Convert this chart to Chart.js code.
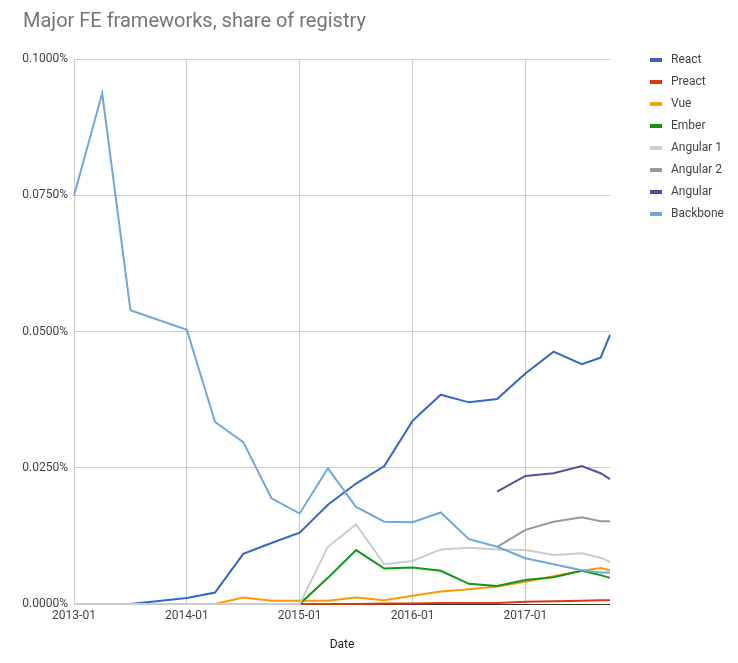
<!DOCTYPE html>
<html>
<head>
<meta charset="utf-8">
<script src="https://cdn.jsdelivr.net/npm/chart.js@4/dist/chart.umd.min.js"></script>
<style>
  html, body { margin: 0; padding: 0; background: #fff; }
</style>
</head>
<body>
<canvas id="fwChart" width="738" height="663"></canvas>
<script>
  // datos (porcentaje del registro)
  const months = ['2013-01','2013-04','2013-07','2014-01','2014-04','2014-07','2014-10','2015-01','2015-04','2015-07',
                  '2015-10','2016-01','2016-04','2016-07','2016-10','2017-01','2017-04','2017-07','2017-09','2017-10'];
  const react    = [0, 0, 0, 0.0011, 0.0021, 0.0092, 0.0112, 0.0131, 0.0182, 0.0221, 0.0253, 0.0336, 0.0384, 0.0370, 0.0376, 0.0423, 0.0463, 0.0440, 0.0452, 0.0494];
  const preact   = [null, null, null, null, null, null, null, 0, 0, 0, 0.0001, 0.0001, 0.0002, 0.0002, 0.0002, 0.0004, 0.0005, 0.0006, 0.0007, 0.0007];
  const vue      = [0, 0, 0, 0, 0, 0.0012, 0.0006, 0.0006, 0.0006, 0.0012, 0.0007, 0.0015, 0.0023, 0.0027, 0.0032, 0.0041, 0.0051, 0.0061, 0.0066, 0.0062];
  const ember    = [0, 0, 0, 0, 0, 0, 0, 0, 0.0048, 0.0099, 0.0065, 0.0067, 0.0061, 0.0037, 0.0033, 0.0044, 0.0049, 0.0061, 0.0053, 0.0048];
  const angular1 = [0, 0, 0, 0, 0, 0, 0, 0, 0.0105, 0.0146, 0.0073, 0.0079, 0.0100, 0.0103, 0.0100, 0.0099, 0.0090, 0.0093, 0.0085, 0.0077];
  const angular2 = [null, null, null, null, null, null, null, null, null, null, null, null, null, null, 0.0105, 0.0136, 0.0151, 0.0159, 0.0152, 0.0152];
  const angular  = [null, null, null, null, null, null, null, null, null, null, null, null, null, null, 0.0206, 0.0235, 0.0240, 0.0253, 0.0240, 0.0229];
  const backbone = [0.0749, 0.0937, 0.0539, 0.0503, 0.0334, 0.0297, 0.0194, 0.0166, 0.0249, 0.0178, 0.0151, 0.0150, 0.0168, 0.0119, 0.0105, 0.0084, 0.0073, 0.0062, 0.0058, 0.0058];

  const seriesNames  = ['React', 'Preact', 'Vue', 'Ember', 'Angular 1', 'Angular 2', 'Angular', 'Backbone'];
  const seriesValues = [react, preact, vue, ember, angular1, angular2, angular, backbone];
  const seriesColors = ['#3366cc', '#dc3912', '#ff9900', '#109618', '#cccccc', '#999999', '#5b4ba0', '#6fa8dc'];

  const xTickLabels = ['2013-01', '2014-01', '2015-01', '2016-01', '2017-01'];
  const yTicks = [0, 0.025, 0.05, 0.075, 0.1];

  // meses desde 2013-01
  const monthIndex = s => (parseInt(s.slice(0, 4)) - 2013) * 12 + parseInt(s.slice(5, 7)) - 1;

  const datasets = seriesNames.map((name, i) => ({
      label: name,
      data: months.map((m, j) => ({ x: monthIndex(m), y: seriesValues[i][j] })),
      borderColor: seriesColors[i],
      backgroundColor: seriesColors[i],
      borderWidth: 2,
      pointRadius: 0,
      tension: 0,
      spanGaps: false,
      clip: false,
      order: -i
  }));

  // título y leyenda al estilo de Google Charts
  const titleLegend = {
      id: 'titleLegend',
      afterDraw(chart) {
          const c = chart.ctx;
          c.save();
          c.fillStyle = '#757575';
          c.font = '20px Roboto';
          c.textBaseline = 'alphabetic';
          c.textAlign = 'left';
          c.fillText('Major FE frameworks, share of registry', 23, 27);
          c.font = '12px Roboto';
          c.textBaseline = 'middle';
          seriesNames.forEach((name, i) => {
              const y = 60 + i * 22;
              c.fillStyle = seriesColors[i];
              c.fillRect(650, y - 2, 12, 4);
              c.fillStyle = '#444';
              c.fillText(name, 671, y);
          });
          c.restore();
      }
  };

  const ctx = document.getElementById('fwChart').getContext('2d');
  const fwChart = new Chart(ctx, {
      type: 'line',
      data: { datasets: datasets },
      plugins: [titleLegend],
      options: {
          responsive: false,
          animation: false,
          layout: { padding: { left: 0, right: 128, top: 59, bottom: 0 } },
          plugins: {
              legend: { display: false },
              tooltip: { enabled: false }
          },
          scales: {
              x: {
                  type: 'linear',
                  min: 0,
                  max: monthIndex('2017-10'),
                  afterFit: s => { s.height = 59; },
                  afterBuildTicks: s => { s.ticks = xTickLabels.map(t => ({ value: monthIndex(t) })); },
                  grid: { color: '#cccccc', lineWidth: 1, drawTicks: false },
                  border: { display: false },
                  ticks: {
                      padding: 5,
                      maxRotation: 0,
                      autoSkip: false,
                      color: '#444',
                      font: { family: 'Roboto', size: 12 },
                      callback: v => xTickLabels.find(t => monthIndex(t) === v) || ''
                  },
                  title: {
                      display: true,
                      text: 'Date',
                      color: '#222',
                      font: { family: 'Roboto', size: 12 },
                      padding: { top: 0, bottom: 11 }
                  }
              },
              y: {
                  min: 0,
                  max: 0.1,
                  afterFit: s => { s.width = 74; },
                  afterBuildTicks: s => { s.ticks = yTicks.map(v => ({ value: v })); },
                  grid: {
                      color: c => c.tick && c.tick.value === 0 ? '#333333' : '#cccccc',
                      lineWidth: 1,
                      drawTicks: false
                  },
                  border: { display: false },
                  ticks: {
                      padding: 6,
                      color: '#444',
                      font: { family: 'Roboto', size: 12 },
                      callback: v => v.toFixed(4) + '%'
                  }
              }
          }
      }
  });
</script>
</body>
</html>
